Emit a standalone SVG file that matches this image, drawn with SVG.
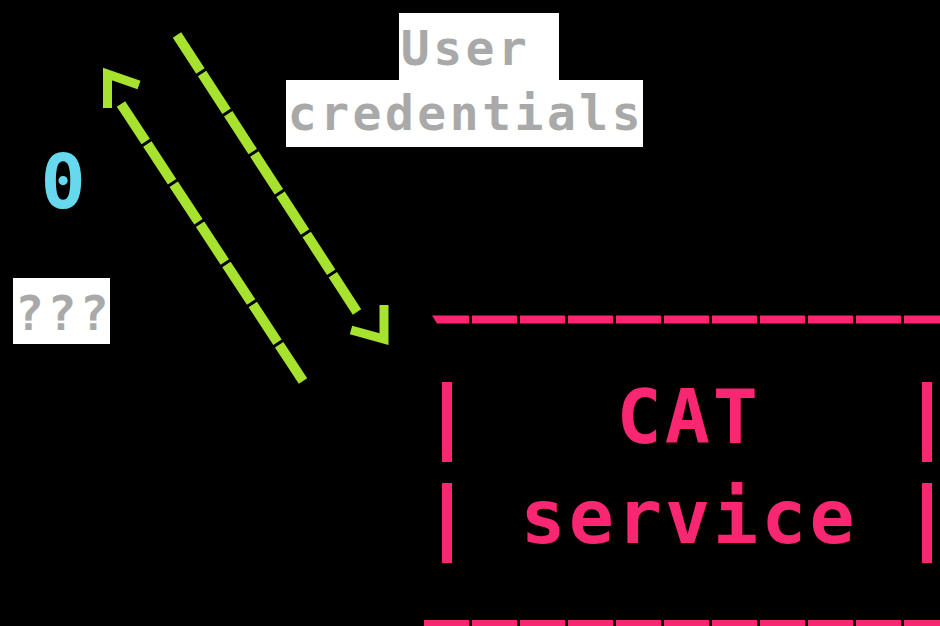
<svg xmlns="http://www.w3.org/2000/svg" width="940" height="626" viewBox="0 0 940 626">
  <style>
    .mono { font-family: "DejaVu Sans Mono", "Liberation Mono", monospace; font-weight: bold; }
    .label { font-size: 48px; letter-spacing: 3.5px; fill: #a9a9a9; }
    .label-bg { fill: #ffffff; }
    .flow { fill: none; stroke: #a6e22e; stroke-width: 10; stroke-linecap: butt; stroke-dasharray: 45 3; }
    .head { fill: none; stroke: #a6e22e; stroke-width: 9; stroke-linecap: butt; stroke-linejoin: miter; }
    .edge { fill: none; stroke: #f92672; stroke-dasharray: 45 3; }
    .side { stroke: #f92672; stroke-width: 10; }
    .service-text { font-size: 75px; letter-spacing: 3px; fill: #f92672; }
  </style>

  <rect x="0" y="0" width="940" height="626" fill="#000000"/>

  <!-- request / response arrows between the client side and the service -->
  <g id="connectors">
    <g id="flow-credentials">
      <path class="flow" d="M177,35 L357,312" stroke-dashoffset="2"/>
      <polyline class="head" points="384,305 384,339 351,330"/>
    </g>
    <g id="flow-response">
      <path class="flow" d="M121,104 L303,381"/>
      <polyline class="head" points="107.5,108 107.5,74 139,85"/>
    </g>
  </g>

  <!-- label on the credentials arrow -->
  <g id="label-credentials">
    <rect class="label-bg" x="399" y="13" width="160" height="67"/>
    <rect class="label-bg" x="286" y="80" width="357" height="67"/>
    <text class="mono label" x="400.75" y="65">User</text>
    <text class="mono label" x="287.75" y="130">credentials</text>
  </g>

  <!-- step number -->
  <g id="step-number">
    <text class="mono" x="63" y="208" text-anchor="middle" font-size="75" fill="#66d9ef">0</text>
  </g>

  <!-- unknown client -->
  <g id="client">
    <rect class="label-bg" x="13" y="278" width="97" height="66"/>
    <text class="mono label" x="15" y="330">???</text>
  </g>

  <!-- CAT service box, drawn in dashed strokes -->
  <g id="cat-service">
    <polygon points="432,315.5 469,315.5 469,323.5 437,323.5" fill="#f92672"/>
    <line class="edge" x1="472" y1="319.5" x2="940" y2="319.5" stroke-width="8"/>
    <line class="edge" x1="424" y1="625" x2="940" y2="625" stroke-width="10"/>
    <line class="side" x1="447" y1="382" x2="447" y2="462"/>
    <line class="side" x1="447" y1="483" x2="447" y2="563"/>
    <line class="side" x1="927" y1="382" x2="927" y2="462"/>
    <line class="side" x1="927" y1="483" x2="927" y2="563"/>
    <text class="mono service-text" x="616.5" y="443">CAT</text>
    <text class="mono service-text" x="520.5" y="543">service</text>
  </g>
</svg>
